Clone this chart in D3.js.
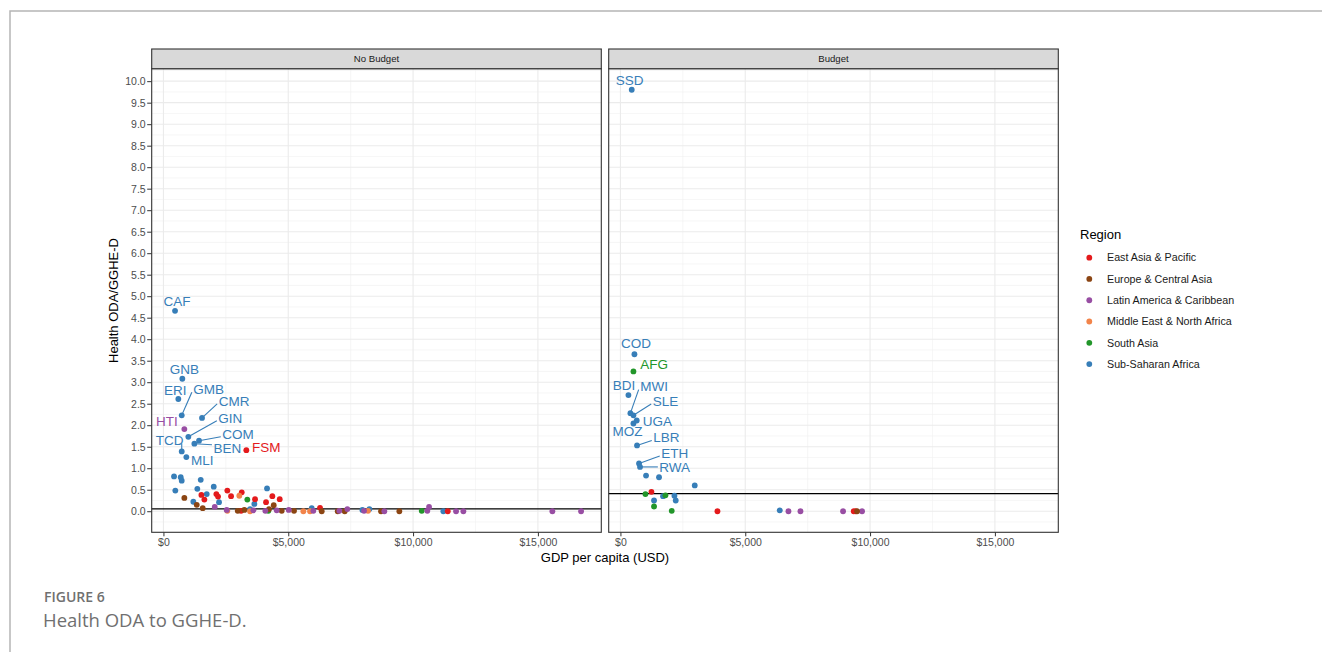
<!DOCTYPE html>
<html>
<head>
<meta charset="utf-8">
<script src="https://cdn.jsdelivr.net/npm/d3@7"></script>
<style>
  body { margin: 0; background: #fff; }
  svg { display: block; font-family: "Liberation Sans", Arial, sans-serif; }
</style>
</head>
<body>
<svg id="chart" width="1322" height="652"></svg>
<script>
// region categories and colours
const regions = ['East Asia & Pacific', 'Europe & Central Asia', 'Latin America & Caribbean',
  'Middle East & North Africa', 'South Asia', 'Sub-Saharan Africa'];
const regionColors = ['#E41A1C', '#8B4513', '#984EA3', '#F2844A', '#22962A', '#377EB8'];

const facets = ['No Budget', 'Budget'];
const xTicks = [0, 5000, 10000, 15000];
const xMinor = [2500, 7500, 12500];
const yTicks = [0, 0.5, 1, 1.5, 2, 2.5, 3, 3.5, 4, 4.5, 5, 5.5, 6, 6.5, 7, 7.5, 8, 8.5, 9, 9.5, 10];
const refLines = [0.055, 0.41];   // horizontal reference per facet

// gdp per capita (USD), health ODA / GGHE-D, region index, ISO code for labelled points
const noBudget = [
  [465, 4.66, 5, 'CAF'], [757, 3.08, 5, 'GNB'], [597, 2.61, 5, 'ERI'], [733, 2.23, 5, 'GMB'],
  [1546, 2.17, 5, 'CMR'], [838, 1.91, 2, 'HTI'], [998, 1.73, 5, 'GIN'], [1426, 1.64, 5, 'COM'],
  [1239, 1.57, 5, 'BEN'], [733, 1.39, 5, 'TCD'], [918, 1.26, 5, 'MLI'], [3321, 1.42, 0, 'FSM'],
  // Sub-Saharan Africa
  [425, 0.81, 5], [477, 0.48, 5], [693, 0.79, 5], [733, 0.71, 5], [1494, 0.73, 5], [1358, 0.52, 5],
  [1735, 0.40, 5], [1198, 0.22, 5], [2015, 0.57, 5], [2227, 0.21, 5], [4150, 0.53, 5], [3642, 0.17, 5],
  [3470, 0.05, 5], [5940, 0.07, 5], [7970, 0.03, 5], [8250, 0.05, 5], [11213, 0.0, 5],
  // East Asia & Pacific
  [1520, 0.38, 0], [1640, 0.27, 0], [2120, 0.40, 0], [2188, 0.34, 0], [2560, 0.48, 0], [2709, 0.35, 0],
  [3136, 0.44, 0], [3670, 0.28, 0], [4110, 0.21, 0], [4363, 0.35, 0], [4658, 0.28, 0], [3110, 0.01, 0],
  [6273, 0.08, 0], [11390, 0.0, 0],
  // Middle East & North Africa
  [3040, 0.36, 3], [2560, 0.01, 3], [3470, 0.0, 3], [5605, 0.0, 3], [5873, 0.0, 3], [8196, 0.01, 3],
  // South Asia
  [3361, 0.27, 4], [4202, 0.01, 4], [10347, 0.01, 4],
  // Europe & Central Asia
  [838, 0.31, 1], [1334, 0.15, 1], [1574, 0.07, 1], [2976, 0.01, 1], [3241, 0.03, 1], [4230, 0.05, 1],
  [4418, 0.14, 1], [4739, 0.01, 1], [5232, 0.01, 1], [6341, 0.0, 1], [6982, 0.0, 1], [7262, 0.0, 1],
  [8717, 0.0, 1], [9450, 0.0, 1],
  // Latin America & Caribbean
  [2055, 0.10, 2], [2535, 0.03, 2], [4082, 0.01, 2], [4538, 0.02, 2], [5020, 0.03, 2], [6005, 0.01, 2],
  [7046, 0.01, 2], [7367, 0.05, 2], [8036, 0.01, 2], [8849, 0.0, 2], [10572, 0.01, 2], [10640, 0.10, 2],
  [11722, 0.0, 2], [12015, 0.0, 2], [3603, 0.02, 2], [15580, 0.0, 2], [16730, 0.0, 2]
];

const budget = [
  [453, 9.80, 5, 'SSD'], [561, 3.65, 5, 'COD'], [521, 3.25, 4, 'AFG'], [320, 2.70, 5, 'BDI'],
  [400, 2.28, 5, 'MWI'], [521, 2.23, 5, 'SLE'], [653, 2.11, 5, 'UGA'], [521, 2.04, 5, 'MOZ'],
  [665, 1.53, 5, 'LBR'], [745, 1.11, 5, 'ETH'], [785, 1.03, 5, 'RWA'],
  [1026, 0.83, 5], [1546, 0.79, 5], [2977, 0.60, 5], [1707, 0.35, 5], [2163, 0.36, 5], [1346, 0.25, 5],
  [2215, 0.25, 5], [6382, 0.02, 5],
  [1242, 0.45, 0], [3886, 0.0, 0], [9346, 0.0, 0], [9426, 0.0, 0],
  [1001, 0.40, 4], [1803, 0.37, 4], [1346, 0.11, 4], [2055, 0.01, 4],
  [6730, 0.0, 2], [7211, 0.0, 2], [8918, 0.0, 2], [9679, 0.0, 2],
  [9479, 0.0, 1]
];

// repelled label placement: text centre offset from the point (px), and whether a segment is drawn
const labelNudge = {
  CAF: [2, -10, false], GNB: [2, -10, false], ERI: [-3, -8.5, false], GMB: [27, -26, true],
  CMR: [32, -17, true], HTI: [-17.5, -7.6, false], GIN: [42, -19, true], COM: [39, -7, true],
  BEN: [33, 4, true], TCD: [-12, -11, true], MLI: [16, 3, false], FSM: [20, -2.7, false],
  SSD: [-2, -10, false], COD: [1.6, -10.7, false], AFG: [20.6, -7, false], BDI: [-4.4, -10.3, false],
  MWI: [23.6, -26.6, true], SLE: [32, -14.3, true], UGA: [20.7, 0.3, false], MOZ: [-6, 7.3, false],
  LBR: [29.4, -8, true], ETH: [35.7, -10.4, true], RWA: [34.7, 0, true]
};

const svg = d3.select('#chart');

// page frame
svg.append('path')
  .attr('d', 'M10,652 V11 H1322')
  .attr('fill', 'none').attr('stroke', '#b5b5b5').attr('stroke-width', 1.5);

const panelTop = 68.7, panelBottom = 532.3, stripTop = 49;
const panelX = [[151.7, 601.3], [608.7, 1058.3]];

const y = d3.scaleLinear().domain([-0.49, 10.29]).range([panelBottom, panelTop]);
const yMinor = yTicks.map(d => d - 0.25).concat([10.25]);

function drawPanel(idx, data) {
  const [x0, x1] = panelX[idx];
  const x = d3.scaleLinear().domain([-470, 17540]).range([x0, x1]);
  const g = svg.append('g');

  g.append('rect').attr('x', x0).attr('y', panelTop).attr('width', x1 - x0)
    .attr('height', panelBottom - panelTop).attr('fill', '#fff');

  // grid
  g.selectAll('.ymin').data(yMinor).enter().append('line')
    .attr('x1', x0).attr('x2', x1).attr('y1', d => y(d)).attr('y2', d => y(d))
    .attr('stroke', '#F0F0F0').attr('stroke-width', 0.6);
  g.selectAll('.xmin').data(xMinor).enter().append('line')
    .attr('y1', panelTop).attr('y2', panelBottom).attr('x1', d => x(d)).attr('x2', d => x(d))
    .attr('stroke', '#F0F0F0').attr('stroke-width', 0.6);
  g.selectAll('.ymaj').data(yTicks).enter().append('line')
    .attr('x1', x0).attr('x2', x1).attr('y1', d => y(d)).attr('y2', d => y(d))
    .attr('stroke', '#EBEBEB').attr('stroke-width', 1.1);
  g.selectAll('.xmaj').data(xTicks).enter().append('line')
    .attr('y1', panelTop).attr('y2', panelBottom).attr('x1', d => x(d)).attr('x2', d => x(d))
    .attr('stroke', '#EBEBEB').attr('stroke-width', 1.1);

  // reference line
  g.append('line').attr('x1', x0).attr('x2', x1)
    .attr('y1', y(refLines[idx])).attr('y2', y(refLines[idx]))
    .attr('stroke', '#000').attr('stroke-width', 1.3);

  // points
  g.selectAll('circle').data(data).enter().append('circle')
    .attr('cx', d => x(d[0])).attr('cy', d => y(d[1])).attr('r', 2.9)
    .attr('fill', d => regionColors[d[2]]);

  // labels and segments
  const labelled = data.filter(d => d[3]);
  labelled.forEach(d => {
    const px = x(d[0]), py = y(d[1]);
    const [dx, dy, seg] = labelNudge[d[3]];
    const t = g.append('text').attr('x', px + dx).attr('y', py + dy).attr('dy', '0.36em')
      .attr('text-anchor', 'middle').attr('font-size', 13.5)
      .attr('fill', regionColors[d[2]]).text(d[3]);
    if (seg) {
      const b = t.node().getBBox();
      const cy = py + dy;
      const pad = 1.5;
      const ex = Math.max(b.x - pad, Math.min(px, b.x + b.width + pad));
      const ey = Math.max(cy - 3, Math.min(py, cy + 3));
      g.insert('line', 'text').attr('x1', px).attr('y1', py).attr('x2', ex).attr('y2', ey)
        .attr('stroke', regionColors[d[2]]).attr('stroke-width', 1.1);
    }
  });

  // border
  g.append('rect').attr('x', x0).attr('y', panelTop).attr('width', x1 - x0)
    .attr('height', panelBottom - panelTop).attr('fill', 'none')
    .attr('stroke', '#333').attr('stroke-width', 1.1);

  // strip
  g.append('rect').attr('x', x0).attr('y', stripTop).attr('width', x1 - x0)
    .attr('height', panelTop - stripTop).attr('fill', '#D9D9D9')
    .attr('stroke', '#333').attr('stroke-width', 1.1);
  g.append('text').attr('x', (x0 + x1) / 2).attr('y', (stripTop + panelTop) / 2).attr('dy', '0.35em')
    .attr('text-anchor', 'middle').attr('font-size', 9.6).attr('fill', '#1A1A1A').text(facets[idx]);

  // x axis
  const xa = g.append('g').attr('transform', `translate(0,${panelBottom})`)
    .call(d3.axisBottom(x).tickValues(xTicks).tickSize(4).tickPadding(2)
      .tickFormat(d => '$' + d3.format(',')(d)));
  xa.select('.domain').remove();
  xa.selectAll('line').attr('stroke', '#333');
  xa.selectAll('text').attr('font-size', 10.5).attr('fill', '#4D4D4D')
    .attr('font-family', '"Liberation Sans", Arial, sans-serif');

  if (idx === 0) {
    const ya = g.append('g').attr('transform', `translate(${x0},0)`)
      .call(d3.axisLeft(y).tickValues(yTicks).tickSize(4.5).tickPadding(1.5)
        .tickFormat(d3.format('.1f')));
    ya.select('.domain').remove();
    ya.selectAll('line').attr('stroke', '#333');
    ya.selectAll('text').attr('font-size', 10.5).attr('fill', '#4D4D4D')
      .attr('font-family', '"Liberation Sans", Arial, sans-serif');
  }
}

drawPanel(0, noBudget);
drawPanel(1, budget);

// axis titles
svg.append('text').attr('x', (panelX[0][0] + panelX[1][1]) / 2).attr('y', 562)
  .attr('text-anchor', 'middle').attr('font-size', 13).attr('fill', '#000')
  .text('GDP per capita (USD)');
svg.append('text').attr('transform', `translate(118,${(panelTop + panelBottom) / 2}) rotate(-90)`)
  .attr('text-anchor', 'middle').attr('font-size', 13).attr('fill', '#000')
  .text('Health ODA/GGHE-D');

// legend
const legend = svg.append('g').attr('transform', 'translate(1080,0)');
legend.append('text').attr('x', 0).attr('y', 239).attr('font-size', 13).attr('fill', '#000').text('Region');
const items = legend.selectAll('.item').data(regions).enter().append('g')
  .attr('transform', (d, i) => `translate(0,${257.7 + i * 21.27})`);
items.append('circle').attr('cx', 9.3).attr('cy', 0).attr('r', 2.9).attr('fill', (d, i) => regionColors[i]);
items.append('text').attr('x', 27).attr('y', 0).attr('dy', '0.35em').attr('font-size', 10.7)
  .attr('fill', '#1A1A1A').text(d => d);

// caption
svg.append('text').attr('x', 44).attr('y', 602).attr('font-family', '"Open Sans", Lato, sans-serif')
  .attr('font-weight', 600).attr('font-size', 14).attr('fill', '#707070').text('FIGURE 6');
svg.append('text').attr('x', 43).attr('y', 627).attr('font-family', '"Open Sans", Lato, sans-serif')
  .attr('font-weight', 400).attr('font-size', 18.5).attr('fill', '#707070').text('Health ODA to GGHE-D.');
</script>
</body>
</html>
